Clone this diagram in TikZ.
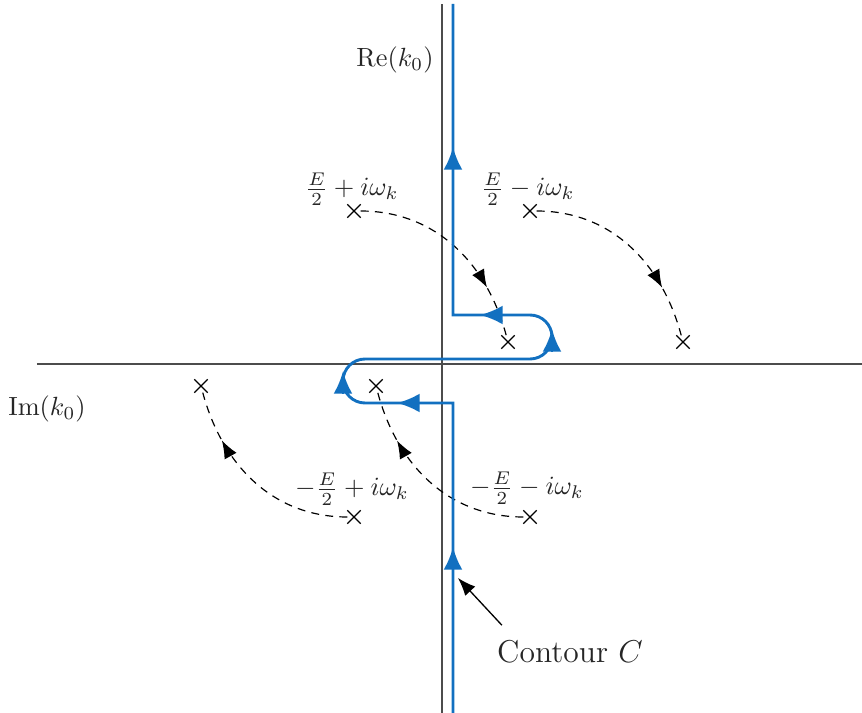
\documentclass[tikz,border=0pt]{standalone}
\usetikzlibrary{arrows.meta,decorations.markings,shapes.misc}

\definecolor{cblue}{RGB}{18,112,192}
\tikzset{
  axis/.style={black!70,line width=0.55pt},
  pole/.style={cross out,draw,line width=0.45pt,minimum size=4.6pt,inner sep=0pt},
  flow/.style={dash pattern=on 3pt off 2.4pt,line width=0.45pt,
    postaction={decorate,decoration={markings,
      mark=at position #1 with {\arrow{Latex[length=6.8pt,width=5.2pt]}}}}},
  flow/.default=0.75,
  contour/.style={cblue,line width=1.1pt},
  bt/.tip={Latex[length=8.6pt,width=7.2pt]},
  lab/.style={text=black!85},
}

\begin{document}
\begin{tikzpicture}[x=0.38pt,y=0.38pt]
  \useasboundingbox (-442,-349) rectangle (420,364);
  % axes
  \draw[axis] (-405,0) -- (420,0);
  \draw[axis] (0,-349) -- (0,360);
  \node[lab] (re) at (-47,304) {Re$(k_0)$};
  \node[lab] (im) at (-395,-45) {Im$(k_0)$};

  % poles and how they move
  \foreach \n/\x/\y in {ul/-88/153, ur/88/153, ui/66/22, uo/241/22,
                        ll/-88/-153, lr/88/-153, li/-66/-22, lo/-241/-22}
    \node[pole] (\n) at (\x,\y) {};
  \draw[flow] (ul) to[out=0,in=105] (ui);
  \draw[flow] (ur) to[out=0,in=105] (uo);
  \draw[flow] (lr) to[out=180,in=-75] (li);
  \draw[flow] (ll) to[out=180,in=-75] (lo);

  \node[lab] (pp) at (-90,175) {$\frac{E}{2}+i\omega_k$};
  \node[lab] (pm) at (86,175) {$\frac{E}{2}-i\omega_k$};
  \node[lab] (mp) at (-90,-125) {$-\frac{E}{2}+i\omega_k$};
  \node[lab] (mm) at (85,-124) {$-\frac{E}{2}-i\omega_k$};

  % contour C
  \draw[contour]
    (11,-349) -- (11,-39) -- (-77,-39) arc[start angle=270,end angle=90,radius=22]
    -- (88,5) arc[start angle=-90,end angle=90,radius=22] -- (11,49) -- (11,360);
  % direction of the contour
  \draw[contour,-bt] (11,-208) -- (11,-183);
  \draw[contour,-bt] (-22,-39) -- (-45,-39);
  \draw[contour,-bt] (-99,-30) -- (-99,-7);
  \draw[contour,-bt] (110,12) -- (110,35);
  \draw[contour,-bt] (62,49) -- (38,49);
  \draw[contour,-bt] (11,194) -- (11,217);

  \node[lab,font=\large] (cc) at (128,-288) {Contour $C$};
  \coordinate (ctail) at ([shift={(14,6)}]cc.north west);
  \coordinate (ctip) at (16,-214);
  \draw[-{Latex[length=6.8pt,width=5.2pt]},line width=0.5pt] (ctail) -- (ctip);
\end{tikzpicture}
\end{document}
